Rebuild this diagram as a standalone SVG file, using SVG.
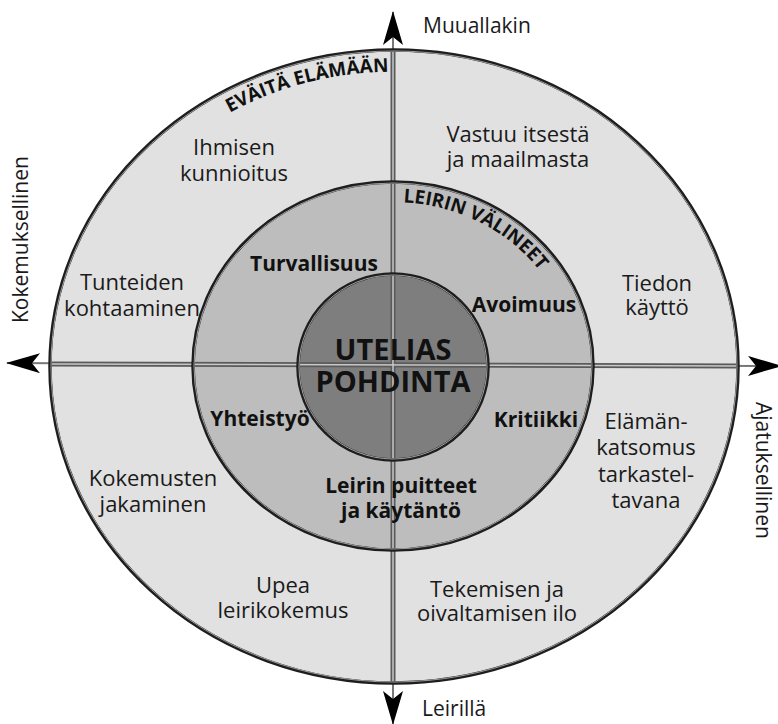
<svg xmlns="http://www.w3.org/2000/svg" width="778" height="724" viewBox="0 0 778 724">
<style>
.t{font-family:"Open Sans","Noto Sans","DejaVu Sans",sans-serif;font-size:22px;fill:#1a1a1a;text-anchor:middle}
.b{font-family:"Open Sans","Noto Sans","DejaVu Sans",sans-serif;font-size:21px;font-weight:700;fill:#111;text-anchor:middle}
.c{font-family:"Open Sans","Noto Sans","DejaVu Sans",sans-serif;font-size:29px;font-weight:700;fill:#111;text-anchor:middle}
.a{font-family:"Open Sans","Noto Sans","DejaVu Sans",sans-serif;font-size:21px;fill:#1a1a1a}
.arc{font-family:"Open Sans","Noto Sans","DejaVu Sans",sans-serif;font-size:19px;font-weight:700;fill:#111;text-anchor:middle}
.band{stroke:#5a5a5a;stroke-width:5;fill:none}
.bandc{stroke:#c8c8c8;stroke-width:1.5;fill:none}
.ring{fill:none;stroke:#1e1e1e;stroke-width:3.5}
.ringc{fill:none;stroke:#a0a0a0;stroke-width:1}
</style>
<defs>
<marker id="arr" viewBox="0 0 34 20" refX="33" refY="10" markerWidth="34" markerHeight="20" markerUnits="userSpaceOnUse" orient="auto">
<path d="M0,0 L34,10 L0,20 L8,10 Z" fill="#000"/>
</marker>
<path id="p1" d="M71,366.5 A323,295 0 0 1 717,366.5"/>
<path id="p2" d="M213,366 A180,164 0 0 1 573,366"/>
</defs>
<rect width="778" height="724" fill="#fff"/>
<g id="rings">
<ellipse cx="394" cy="366.5" rx="344" ry="316.5" fill="#e1e1e1"/>
<ellipse cx="393" cy="366" rx="200" ry="184" fill="#bdbdbd"/>
<ellipse cx="393" cy="367" rx="95" ry="93" fill="#7e7e7e"/>
</g>
<g id="connectors">
<line x1="393" y1="365" x2="393" y2="12" stroke="#777" stroke-width="2" marker-end="url(#arr)"/>
<line x1="393" y1="365" x2="393" y2="724" stroke="#777" stroke-width="2" marker-end="url(#arr)"/>
<line x1="393" y1="365" x2="7" y2="363" stroke="#777" stroke-width="2" marker-end="url(#arr)"/>
<line x1="393" y1="365" x2="781" y2="366" stroke="#777" stroke-width="2" marker-end="url(#arr)"/>
<line class="band" x1="393" y1="50" x2="393" y2="683"/>
<line class="band" x1="50" y1="364" x2="738" y2="366"/>
<line class="bandc" x1="393" y1="50" x2="393" y2="683"/>
<line class="bandc" x1="50" y1="364" x2="738" y2="366"/>
</g>
<g id="outlines">
<ellipse class="ring" cx="394" cy="366.5" rx="344" ry="316.5"/>
<ellipse class="ringc" cx="394" cy="366.5" rx="343" ry="315.5"/>
<ellipse class="ring" cx="393" cy="366" rx="200" ry="184"/>
<ellipse class="ringc" cx="393" cy="366" rx="199" ry="183"/>
<ellipse class="ring" cx="393" cy="367" rx="95" ry="93"/>
<ellipse class="ringc" cx="393" cy="367" rx="94" ry="92"/>
</g>
<g id="axis-labels">
<text class="a" x="423" y="33">Muuallakin</text>
<text class="a" x="422" y="716">Leirillä</text>
<text class="a" transform="translate(28,323) rotate(-90)">Kokemuksellinen</text>
<text class="a" transform="translate(756,402) rotate(90)">Ajatuksellinen</text>
</g>
<g id="arc-evaita"><text class="arc"><textPath href="#p1" startOffset="397">EVÄITÄ ELÄMÄÄN</textPath></text></g>
<g id="arc-leirin"><text class="arc"><textPath href="#p2" startOffset="359">LEIRIN VÄLINEET</textPath></text></g>
<g id="ihmisen"><text class="t" x="234" y="155">Ihmisen<tspan x="234" dy="26">kunnioitus</tspan></text></g>
<g id="vastuu"><text class="t" x="518" y="142">Vastuu itsestä<tspan x="518" dy="25">ja maailmasta</tspan></text></g>
<g id="tunteiden"><text class="t" x="132" y="290">Tunteiden<tspan x="132" dy="26">kohtaaminen</tspan></text></g>
<g id="tiedon"><text class="t" x="657" y="291">Tiedon<tspan x="657" dy="24">käyttö</tspan></text></g>
<g id="kokemusten"><text class="t" x="153" y="486">Kokemusten<tspan x="153" dy="26">jakaminen</tspan></text></g>
<g id="elaman"><text class="t" x="646" y="429">Elämän-<tspan x="646" dy="26">katsomus</tspan><tspan x="646" dy="27">tarkastel-</tspan><tspan x="646" dy="26">tavana</tspan></text></g>
<g id="upea"><text class="t" x="283" y="593">Upea<tspan x="283" dy="25">leirikokemus</tspan></text></g>
<g id="tekemisen"><text class="t" x="497" y="597">Tekemisen ja<tspan x="497" dy="24">oivaltamisen ilo</tspan></text></g>
<g id="turvallisuus"><text class="b" x="314" y="271">Turvallisuus</text></g>
<g id="avoimuus"><text class="b" x="524" y="312">Avoimuus</text></g>
<g id="yhteistyo"><text class="b" x="260" y="426">Yhteistyö</text></g>
<g id="kritiikki"><text class="b" x="536" y="427">Kritiikki</text></g>
<g id="leirin-puitteet"><text class="b" x="401" y="493">Leirin puitteet<tspan x="401" dy="25">ja käytäntö</tspan></text></g>
<g id="center"><text class="c" x="393" y="360">UTELIAS<tspan x="393" dy="32">POHDINTA</tspan></text></g>
</svg>
